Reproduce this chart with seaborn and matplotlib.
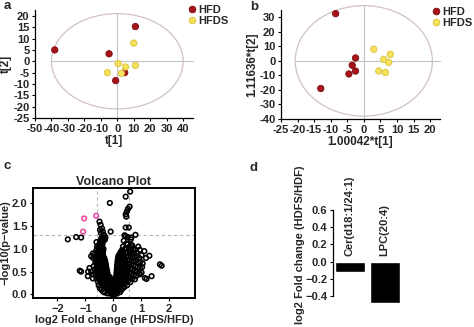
import matplotlib
matplotlib.use("Agg")
import matplotlib.pyplot as plt
from matplotlib.patches import Ellipse
from matplotlib.lines import Line2D
import numpy as np
import pandas as pd
import seaborn as sns

# ---------------- data ----------------
# (a) PCA scores
pca_hfd_t1 = [-38.0, -5.0, 11.0, 4.5, -1.0]
pca_hfd_t2 = [5.0, 3.3, 15.3, -5.0, -8.5]
pca_hfds_t1 = [10.0, 0.5, 5.0, 11.0, -6.0, 2.5]
pca_hfds_t2 = [8.0, -1.0, -2.5, -1.8, -5.0, -5.3]

# (b) OPLS-DA scores
opls_hfd_t1 = [-8.5, -2.5, -3.5, -2.5, -4.5, -13.0]
opls_hfd_t2 = [32.5, 2.0, -3.0, -7.0, -9.0, -19.0]
opls_hfds_t1 = [3.0, 8.0, 6.0, 7.5, 4.5, 6.5]
opls_hfds_t2 = [8.0, 4.5, 1.0, -1.0, -7.0, -8.0]

# (c) volcano plot: dense V of non-significant features, one row per -log10(p) level
core_rows = [
    (0.00, [-0.05, 0.0, 0.05]),
    (0.02, [-0.07, -0.01, 0.05]),
    (0.04, [-0.1, -0.04, 0.02, 0.08]),
    (0.06, [-0.13, -0.07, -0.01, 0.06]),
    (0.08, [-0.16, -0.1, -0.04, 0.03, 0.1]),
    (0.10, [-0.19, -0.12, -0.05, 0.02, 0.09, 0.16]),
    (0.12, [-0.22, -0.15, -0.08, 0.0, 0.07, 0.14]),
    (0.14, [-0.25, -0.18, -0.11, -0.04, 0.03, 0.1, 0.17]),
    (0.16, [-0.28, -0.2, -0.12, -0.04, 0.05, 0.12, 0.2]),
    (0.18, [-0.32, -0.24, -0.16, -0.08, 0.0, 0.08, 0.16, 0.24]),
    (0.20, [-0.34, -0.26, -0.18, -0.1, 0.08, 0.16, 0.24, 0.3]),
    (0.22, [-0.38, -0.3, -0.22, -0.14, -0.06, 0.02, 0.1, 0.18, 0.26, 0.34]),
    (0.24, [-0.4, -0.32, -0.24, -0.16, -0.08, 0.1, 0.18, 0.26, 0.34]),
    (0.26, [-0.42, -0.34, -0.26, -0.18, -0.1, -0.02, 0.06, 0.14, 0.22, 0.3, 0.38]),
    (0.28, [-0.44, -0.36, -0.28, -0.2, -0.12, 0.12, 0.2, 0.28, 0.36, 0.42]),
    (0.30, [-0.46, -0.4, -0.32, -0.24, -0.16, -0.08, 0.06, 0.16, 0.24, 0.32, 0.4]),
    (0.32, [-0.46, -0.38, -0.3, -0.22, -0.14, 0.13, 0.21, 0.29, 0.37, 0.45]),
    (0.34, [-0.5, -0.42, -0.34, -0.26, -0.18, -0.1, 0.1, 0.18, 0.26, 0.34, 0.42]),
    (0.36, [-0.48, -0.4, -0.32, -0.24, -0.16, 0.14, 0.22, 0.3, 0.38, 0.46]),
    (0.38, [-0.52, -0.44, -0.36, -0.28, -0.2, -0.12, 0.11, 0.19, 0.27, 0.35, 0.43]),
    (0.40, [-0.5, -0.42, -0.34, -0.26, -0.18, 0.15, 0.23, 0.31, 0.39, 0.47]),
    (0.42, [-0.54, -0.46, -0.38, -0.3, -0.22, 0.12, 0.2, 0.28, 0.36, 0.44]),
    (0.44, [-0.5, -0.42, -0.34, -0.27, -0.2, 0.16, 0.24, 0.32, 0.4, 0.48]),
    (0.46, [-0.56, -0.46, -0.38, -0.31, -0.24, 0.12, 0.2, 0.28, 0.36, 0.44]),
    (0.48, [-0.52, -0.44, -0.36, -0.28, -0.21, 0.16, 0.24, 0.32, 0.4, 0.5]),
    (0.50, [-0.56, -0.48, -0.4, -0.32, -0.25, 0.13, 0.21, 0.29, 0.37, 0.45]),
    (0.52, [-0.52, -0.44, -0.36, -0.29, -0.22, 0.17, 0.25, 0.33, 0.41, 0.49]),
    (0.54, [-0.58, -0.48, -0.4, -0.33, -0.26, 0.13, 0.21, 0.29, 0.37, 0.45]),
    (0.56, [-0.54, -0.46, -0.38, -0.3, -0.24, 0.17, 0.25, 0.33, 0.41, 0.5]),
    (0.58, [-0.58, -0.5, -0.42, -0.34, -0.28, 0.14, 0.22, 0.3, 0.38, 0.46]),
    (0.60, [-0.54, -0.46, -0.38, -0.31, -0.25, 0.18, 0.26, 0.34, 0.42, 0.5]),
    (0.62, [-0.58, -0.5, -0.43, -0.35, -0.29, 0.14, 0.22, 0.3, 0.38, 0.46]),
    (0.64, [-0.55, -0.47, -0.39, -0.32, -0.26, 0.18, 0.26, 0.34, 0.42]),
    (0.66, [-0.51, -0.43, -0.36, -0.3, 0.15, 0.23, 0.31, 0.39]),
    (0.68, [-0.55, -0.47, -0.4, -0.33, -0.27, 0.19, 0.27, 0.35, 0.43]),
    (0.70, [-0.58, -0.5, -0.43, -0.36, -0.3, 0.16, 0.23, 0.31, 0.39]),
    (0.72, [-0.54, -0.46, -0.39, -0.32, 0.19, 0.27, 0.35, 0.44]),
    (0.74, [-0.5, -0.42, -0.35, -0.29, 0.16, 0.24, 0.32, 0.4]),
    (0.76, [-0.54, -0.46, -0.39, -0.32, 0.2, 0.28, 0.36]),
    (0.78, [-0.57, -0.5, -0.42, -0.35, 0.17, 0.25, 0.33, 0.41]),
    (0.80, [-0.53, -0.45, -0.38, -0.32, 0.21, 0.29, 0.37]),
    (0.82, [-0.49, -0.42, -0.35, 0.18, 0.26, 0.34]),
    (0.84, [-0.53, -0.45, -0.38, 0.22, 0.3, 0.38]),
    (0.86, [-0.56, -0.48, -0.41, 0.2, 0.28, 0.36]),
    (0.88, [-0.52, -0.44, -0.37, 0.24, 0.32]),
    (0.90, [-0.48, -0.4, 0.28]),
    (0.92, [-0.52, -0.44, -0.37, 0.26, 0.34]),
    (0.94, [-0.55, -0.48, -0.4, 0.32]),
    (0.96, [-0.5, -0.43, -0.36, 0.3]),
    (0.98, [-0.46, -0.39]),
    (1.00, [-0.5, -0.42, -0.35]),
    (1.02, [-0.53, -0.45, -0.38]),
    (1.04, [-0.48, -0.4]),
    (1.06, [-0.44]),
    (1.08, [-0.48, -0.4]),
    (1.10, [-0.5, -0.42]),
    (1.12, [-0.46, -0.38]),
    (1.14, [-0.42]),
    (1.16, [-0.45]),
    (1.18, [-0.47, -0.4]),
    (1.20, [-0.44, -0.36]),
]

# scattered non-significant features (log2 FC, -log10 p)
scatter_fc = [
    0.52, 0.6, 0.68, 0.47, 0.56, 0.64, 0.72, 0.8, 0.5, 0.58, 0.66, 0.75, 0.84, 0.9, 0.96,
    0.55, 0.62, 0.7, 0.78, 0.86, 0.94, 1.02, 1.12, 1.18, 1.3, 0.58, 0.66, 0.74, 0.82, 0.9,
    0.98, 1.06, 0.56, 0.64, 0.72, 0.8, 0.88, 0.96, 1.04, 0.55, 0.62, 0.7, 0.78, 0.86, 0.94,
    1.02, 0.5, 0.58, 0.66, 0.74, 0.82, 0.96, 0.52, 0.6, 0.68, 0.78, 0.46, 0.54, 0.62, 0.44,
    0.5, 0.4, 1.14, 1.2, 1.38, 1.68, 1.74,
    -0.6, -0.55, -0.62, -0.66, -0.72, -0.7, -0.64, -0.72, -0.67, -0.79, -0.73, -0.85, -0.91,
    -0.79, -0.73, -1.15, -1.2, -0.9, -0.6, -0.58, -0.62, -0.6,
    -0.49, -0.45, -0.4, -0.37, -0.35, -0.42, -0.3, -0.32, -0.44, -0.47, -0.28, -0.38,
    -0.09, -0.12, -1.63, -1.33, -1.15,
    0.61, 0.45, 0.59, 0.53, 0.49, 0.45, 0.47, 0.45, 0.56, 0.45, 0.52, 0.8, 0.63, 0.65,
    0.41, 0.48, 0.66, 0.38, 0.35, 0.42,
    -0.48, -0.42, -0.36, -0.3, -0.52, 0.25, 0.3, 0.35, -0.2, 0.15,
]
scatter_p = [
    1.10, 1.05, 1.08, 1.02, 0.98, 0.96, 1.0, 0.98, 0.92, 0.9, 0.88, 0.9, 0.92, 1.05, 0.98,
    0.84, 0.82, 0.8, 0.82, 0.84, 0.8, 0.86, 0.95, 0.8, 0.85, 0.76, 0.74, 0.72, 0.74, 0.7,
    0.72, 0.68, 0.68, 0.66, 0.64, 0.62, 0.6, 0.58, 0.6, 0.6, 0.57, 0.55, 0.52, 0.5, 0.46,
    0.48, 0.52, 0.48, 0.45, 0.42, 0.4, 0.44, 0.42, 0.38, 0.34, 0.33, 0.34, 0.3, 0.27, 0.24,
    0.2, 0.16, 0.36, 0.34, 0.4, 0.66, 0.63,
    0.35, 0.28, 0.45, 0.55, 0.44, 0.62, 0.7, 0.8, 0.87, 0.84, 0.9, 0.58, 0.4,
    0.5, 0.35, 0.5, 0.52, 0.5, 0.97, 1.05, 0.78, 1.15,
    1.6, 1.53, 1.45, 1.38, 1.3, 1.24, 1.2, 1.3, 1.35, 1.42, 1.25, 1.18,
    1.38, 2.01, 1.21, 1.26, 1.25,
    2.26, 2.15, 1.93, 1.88, 1.82, 1.76, 1.71, 1.47, 1.47, 1.28, 1.26, 1.31, 1.21, 1.25,
    1.3, 1.12, 1.07, 1.18, 1.05, 1.0,
    0.14, 0.1, 0.06, 0.04, 0.2, 0.05, 0.1, 0.14, 0.02, 0.02,
]

# significant features (p < 0.05, |log2 FC| > log2 1.5)
sig_fc = [-1.04, -0.61, -1.08]
sig_p = [1.67, 1.73, 1.38]

# (d) fold change of the differential lipids
lipids = ["Cer(d18:1/24:1)", "LPC(20:4)"]
lipid_log2fc = [-0.12, -0.48]

# ---------------- style ----------------
sns.set_style("ticks")
plt.rcParams["font.family"] = ["Liberation Sans", "DejaVu Sans"]
plt.rcParams["font.weight"] = "bold"
plt.rcParams["axes.labelweight"] = "bold"
plt.rcParams["axes.titleweight"] = "bold"
plt.rcParams["axes.unicode_minus"] = True

RED = "#A6141A"
RED_EDGE = "#7A0C10"
YELLOW = "#F6E15A"
YELLOW_EDGE = "#D9C13A"
GRID_GREY = "#C4C4C4"
ELLIPSE_C = "#D2C2C2"

W, H = 474, 327
fig = plt.figure(figsize=(W / 100, H / 100), dpi=100)


def px_axes(left, top, right, bottom):
    return fig.add_axes([left / W, 1 - bottom / H, (right - left) / W, (bottom - top) / H])


def style_ticks(ax, size=8):
    ax.tick_params(labelsize=size, length=2.5, width=0.8, pad=1.5, color="black")
    for s in ax.spines.values():
        s.set_linewidth(0.9)
        s.set_color("black")


def score_panel(ax, hfd_x, hfd_y, hfds_x, hfds_y, xlim, ylim, rx, ry,
                xticks, yticks, xlabel, ylabel):
    df = pd.DataFrame({
        "x": list(hfd_x) + list(hfds_x),
        "y": list(hfd_y) + list(hfds_y),
        "group": ["HFD"] * len(hfd_x) + ["HFDS"] * len(hfds_x),
    })
    ax.add_patch(Ellipse((0, 0), 2 * rx, 2 * ry, fill=False, edgecolor=ELLIPSE_C,
                         lw=0.9, clip_on=False, zorder=1))
    ax.plot([-rx, xlim[1]], [0, 0], color=GRID_GREY, lw=0.8, zorder=1, clip_on=False)
    ax.plot([0, 0], [ylim[0], ry], color=GRID_GREY, lw=0.8, zorder=1, clip_on=False)
    edges = [RED_EDGE if g == "HFD" else YELLOW_EDGE for g in df["group"]]
    sns.scatterplot(data=df, x="x", y="y", hue="group",
                    palette={"HFD": RED, "HFDS": YELLOW}, s=21, linewidth=0.6,
                    edgecolor=edges, legend=False, ax=ax, zorder=3)
    ax.set_xlim(*xlim)
    ax.set_ylim(*ylim)
    ax.set_xticks(xticks)
    ax.set_xticklabels([str(v) for v in xticks])
    ax.set_yticks(yticks)
    ax.set_yticklabels([str(v) for v in yticks])
    sns.despine(ax=ax)
    style_ticks(ax)
    ax.set_xlabel(xlabel, fontsize=8.5, labelpad=1)
    ax.set_ylabel(ylabel, fontsize=8.5, labelpad=1)


def group_legend(x, y):
    handles = [
        Line2D([], [], marker="o", ls="", markersize=4.8, markerfacecolor=RED,
               markeredgecolor=RED_EDGE, markeredgewidth=0.6, label="HFD"),
        Line2D([], [], marker="o", ls="", markersize=4.8, markerfacecolor=YELLOW,
               markeredgecolor=YELLOW_EDGE, markeredgewidth=0.6, label="HFDS"),
    ]
    fig.legend(handles=handles, loc="upper left", bbox_to_anchor=(x / W, 1 - y / H),
               frameon=False, handlelength=0.6, handletextpad=0.25,
               labelspacing=0.05, borderpad=0, borderaxespad=0,
               prop={"weight": "bold", "size": 8})


# ---------------- (a) ----------------
ax_a = px_axes(35, 10, 193, 118)
score_panel(ax_a, pca_hfd_t1, pca_hfd_t2, pca_hfds_t1, pca_hfds_t2,
            (-50, 46), (-25, 22.6), 40, 21,
            list(range(-50, 41, 10)), list(range(-25, 21, 5)), "t[1]", "t[2]")
group_legend(189, 5)

# ---------------- (b) ----------------
ax_b = px_axes(281, 10, 440, 119)
score_panel(ax_b, opls_hfd_t1, opls_hfd_t2, opls_hfds_t1, opls_hfds_t2,
            (-25, 23), (-40, 35), 20.7, 38,
            list(range(-25, 21, 5)), list(range(-40, 31, 10)),
            "1.00042*t[1]", "1.11636*t[2]")
group_legend(433, 7)

# ---------------- (c) volcano ----------------
ax_c = px_axes(33, 188, 195, 298)
core_fc = [x for y, xs in core_rows for x in xs]
core_p = [y for y, xs in core_rows for x in xs]
volcano = pd.DataFrame({
    "fc": core_fc + scatter_fc + sig_fc,
    "p": core_p + scatter_p + sig_p,
    "sig": ["no"] * (len(core_fc) + len(scatter_fc)) + ["yes"] * len(sig_fc),
})
ax_c.axhline(-np.log10(0.05), color="#B5B5B5", lw=0.8, ls=(0, (3, 2.5)), zorder=1)
for v in (-np.log2(1.5), np.log2(1.5)):
    ax_c.axvline(v, color="#B5B5B5", lw=0.8, ls=(0, (3, 2.5)), zorder=1)
ns = volcano[volcano["sig"] == "no"]
sg = volcano[volcano["sig"] == "yes"]
sns.scatterplot(data=ns, x="fc", y="p", s=11, facecolor="none", edgecolor="black",
                linewidth=1.15, ax=ax_c, zorder=2, legend=False)
sns.scatterplot(data=sg, x="fc", y="p", s=11, facecolor="none", edgecolor="#E8459A",
                linewidth=1.1, ax=ax_c, zorder=3, legend=False)
ax_c.set_xlim(-2.88, 2.94)
ax_c.set_ylim(-0.08, 2.34)
ax_c.set_xticks([-2, -1, 0, 1, 2])
ax_c.set_yticks([0.0, 0.5, 1.0, 1.5, 2.0])
ax_c.set_yticklabels(["0.0", "0.5", "1.0", "1.5", "2.0"])
style_ticks(ax_c, 8)
for s in ax_c.spines.values():
    s.set_linewidth(1.4)
ax_c.set_title("Volcano Plot", fontsize=9, pad=2)
ax_c.set_xlabel("log2 Fold change (HFDS/HFD)", fontsize=8, labelpad=1)
ax_c.set_ylabel("\u2212log10(p\u2212value)", fontsize=8, labelpad=1)

# ---------------- (d) bars ----------------
ax_d = px_axes(333, 208, 402, 305)
bars = pd.DataFrame({"lipid": lipids, "log2fc": lipid_log2fc})
sns.barplot(data=bars, x="lipid", y="log2fc", color="black", width=0.86,
            saturation=1, ax=ax_d)
ax_d.set_xlim(-0.48, 1.5)
ax_d.set_ylim(-0.5, 0.62)
ax_d.set_yticks([-0.4, -0.2, 0.0, 0.2, 0.4, 0.6])
ax_d.set_yticklabels(["\u22120.4", "\u22120.2", "0.0", "0.2", "0.4", "0.6"])
ax_d.spines["left"].set_bounds(-0.4, 0.6)
for side in ("top", "right", "bottom"):
    ax_d.spines[side].set_visible(False)
ax_d.set_xticks([])
ax_d.set_xlabel("")
ax_d.set_ylabel("")
style_ticks(ax_d, 8)
for i, name in enumerate(lipids):
    ax_d.text(i, 0.06, name, rotation=90, ha="center", va="bottom",
              fontsize=8, fontweight="bold")
fig.text(300 / W, 1 - 245 / H, "log2 Fold change (HDFS/HDF)", rotation=90,
         ha="center", va="center", fontsize=8, fontweight="bold")

# ---------------- panel letters ----------------
for letter, (x, y) in {"a": (4, 6), "b": (250, 7), "c": (4, 166), "d": (250, 168)}.items():
    fig.text(x / W, 1 - y / H, letter, fontsize=9.5, fontweight="bold",
             ha="left", va="center")

fig.savefig("out.png", dpi=100)
